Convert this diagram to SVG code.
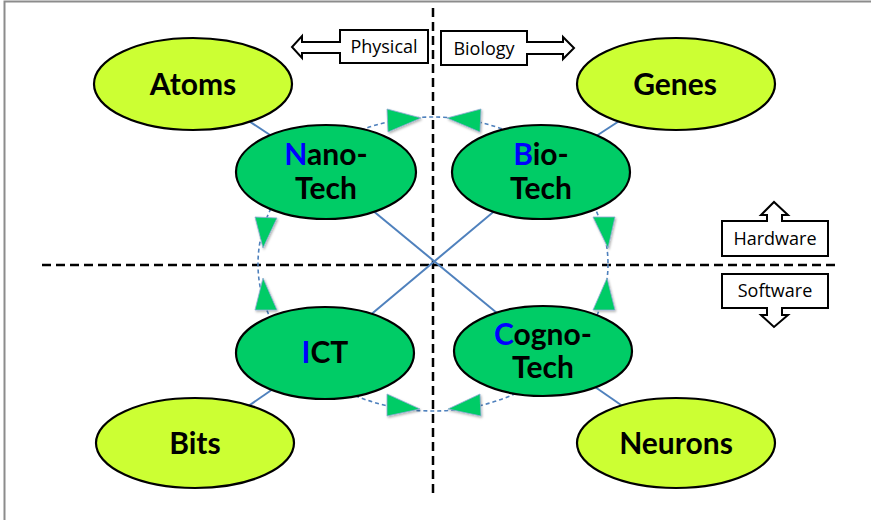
<svg xmlns="http://www.w3.org/2000/svg" width="871" height="520" viewBox="0 0 871 520">
<style>
.frame{stroke:#8c8c8c;stroke-width:2;fill:none}
.axis{stroke:#000;stroke-width:2.5;stroke-dasharray:9 5;fill:none}
.link{stroke:#4f81bd;stroke-width:2;fill:none}
.ring{stroke:#4f81bd;stroke-width:1.6;stroke-dasharray:4 3;fill:none}
.tri{fill:#00cc66;stroke:#8fa9d6;stroke-width:0.8}
.outer{fill:#ccff33;stroke:#000;stroke-width:2.2}
.inner{fill:#00cc66;stroke:#000;stroke-width:2.2}
.lbl{font-family:Lato,"Open Sans","Liberation Sans",sans-serif;font-weight:bold;font-size:30px;fill:#000;text-anchor:middle}
.first{fill:#0000ff}
.box{fill:#fff;stroke:#000;stroke-width:2;stroke-linejoin:miter}
.small{font-family:"Open Sans","Liberation Sans",sans-serif;font-size:18px;fill:#000;text-anchor:middle}
</style>
<defs>
<filter id="sh" x="-30%" y="-30%" width="160%" height="160%">
<feDropShadow dx="1" dy="1.5" stdDeviation="1" flood-color="#000" flood-opacity="0.3"/>
</filter>
</defs>
<rect width="871" height="520" fill="#fff"/>
<path class="frame" d="M4.5,520 V1.5 H871"/>

<g id="axes">
<line class="axis" x1="433" y1="8" x2="433" y2="497"/>
<line class="axis" x1="42" y1="265" x2="838" y2="265"/>
</g>

<g id="connectors">
<line class="link" x1="193" y1="84" x2="326" y2="172"/>
<line class="link" x1="676" y1="84" x2="541" y2="172"/>
<line class="link" x1="195" y1="443" x2="325" y2="353"/>
<line class="link" x1="676" y1="443" x2="543" y2="351"/>
<line class="link" x1="326" y1="172" x2="543" y2="351"/>
<line class="link" x1="541" y1="172" x2="325" y2="353"/>
<ellipse class="ring" cx="433" cy="264" rx="175" ry="147"/>
<g filter="url(#sh)">
<polygon class="tri" points="387,109 388,132 421,118"/>
<polygon class="tri" points="481,109 480,132 447,118"/>
<polygon class="tri" points="387,394 387,416 420,409"/>
<polygon class="tri" points="480,394 481,416 448,409"/>
<polygon class="tri" points="255,217 277,218 263,248"/>
<polygon class="tri" points="255,310 277,310 263,278"/>
<polygon class="tri" points="593,217 615,217 608,248"/>
<polygon class="tri" points="593,310 615,310 607,278"/>
</g>
</g>

<g id="atoms">
<ellipse class="outer" cx="193" cy="84" rx="99" ry="46"/>
<text class="lbl" x="193" y="95">Atoms</text>
</g>
<g id="genes">
<ellipse class="outer" cx="676" cy="84" rx="99" ry="46"/>
<text class="lbl" x="675" y="95">Genes</text>
</g>
<g id="bits">
<ellipse class="outer" cx="195" cy="443" rx="99" ry="45"/>
<text class="lbl" x="195" y="454">Bits</text>
</g>
<g id="neurons">
<ellipse class="outer" cx="676" cy="443" rx="99" ry="45"/>
<text class="lbl" x="676" y="454">Neurons</text>
</g>

<g id="nanotech">
<ellipse class="inner" cx="326" cy="172" rx="90" ry="47"/>
<text class="lbl" x="326" y="165"><tspan class="first">N</tspan>ano-</text>
<text class="lbl" x="326" y="199">Tech</text>
</g>
<g id="biotech">
<ellipse class="inner" cx="541" cy="172" rx="89" ry="47"/>
<text class="lbl" x="541" y="165"><tspan class="first">B</tspan>io-</text>
<text class="lbl" x="541" y="199">Tech</text>
</g>
<g id="ict">
<ellipse class="inner" cx="325" cy="353" rx="89" ry="46"/>
<text class="lbl" x="325" y="363"><tspan class="first">I</tspan>CT</text>
</g>
<g id="cognotech">
<ellipse class="inner" cx="543" cy="351" rx="89" ry="45"/>
<text class="lbl" x="543" y="345"><tspan class="first">C</tspan>ogno-</text>
<text class="lbl" x="543" y="378">Tech</text>
</g>

<g id="physical">
<path class="box" d="M340,30 H428 V63 H340 V53 H302 V58 L292,47 L302,36 V42 H340 Z"/>
<text class="small" x="384" y="53">Physical</text>
</g>
<g id="biology">
<path class="box" d="M441,31 H527 V42 H563 V37 L574,48 L563,59 V54 H527 V65 H441 Z"/>
<text class="small" x="484" y="55">Biology</text>
</g>
<g id="hardware">
<path class="box" d="M722,221 H767 V215 H761 L774,202 L788,215 H782 V221 H828 V256 H722 Z"/>
<text class="small" x="775" y="245">Hardware</text>
</g>
<g id="software">
<path class="box" d="M722,274 H828 V308 H782 V315 H788 L774,327 L761,315 H767 V308 H722 Z"/>
<text class="small" x="775" y="297">Software</text>
</g>
</svg>
